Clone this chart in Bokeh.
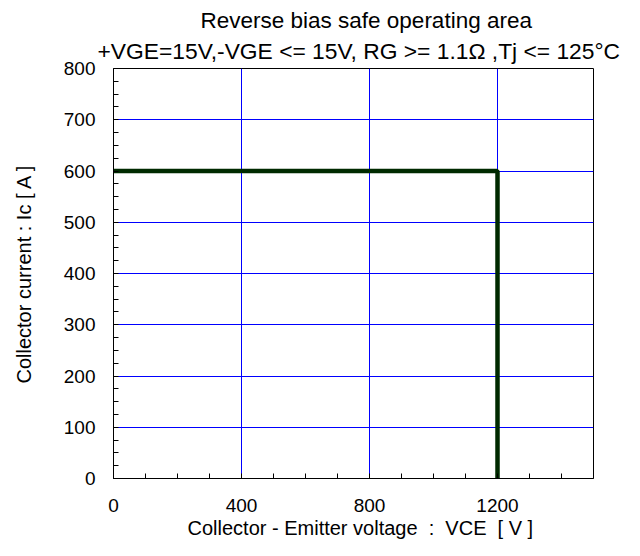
from bokeh.plotting import figure
from bokeh.models import FixedTicker, Title, Range1d
from bokeh.embed import file_html
from bokeh.resources import INLINE

# data
vce = [0, 1200, 1200]
ic = [600, 600, 0]

x_major = [0, 400, 800, 1200]
x_minor = [100, 200, 300, 500, 600, 700, 900, 1000, 1100, 1300, 1400]
x_grid = [400, 800, 1200]
y_major = [0, 100, 200, 300, 400, 500, 600, 700, 800]
y_minor = [v for v in range(0, 801, 25) if v % 100 != 0]
y_grid = [100, 200, 300, 400, 500, 600, 700]

title1 = "Reverse bias safe operating area"
title2 = "+VGE=15V,-VGE <= 15V, RG >= 1.1\u03a9 ,Tj <= 125\u00b0C"
xlabel = "Collector - Emitter voltage \u00a0: \u00a0VCE \u00a0[ V ]"
ylabel = "Collector current : Ic [ A ]"

FONT = "Liberation Sans"

p = figure(width=624, height=540, output_backend="svg", toolbar_location=None,
           x_range=Range1d(0, 1500), y_range=Range1d(0, 800),
           min_border_left=113, min_border_right=31, min_border_top=68,
           min_border_bottom=62, title=None)

p.background_fill_color = "white"
p.border_fill_color = "white"
p.outline_line_color = "black"
p.outline_line_width = 1

p.line(vce, ic, line_color="#002a00", line_width=4.5)

for ax in (p.xaxis[0], p.yaxis[0]):
    ax.major_tick_in = 5
    ax.major_tick_out = 0
    ax.minor_tick_in = 5
    ax.minor_tick_out = 0
    ax.axis_line_color = "black"
    ax.major_tick_line_color = "black"
    ax.minor_tick_line_color = "black"
    ax.major_label_text_font = FONT
    ax.major_label_text_font_size = "19px"
    ax.major_label_text_color = "black"
    ax.axis_label_text_font = FONT
    ax.axis_label_text_font_size = "20px"
    ax.axis_label_text_font_style = "normal"
    ax.axis_label_text_color = "black"

p.xaxis.ticker = FixedTicker(ticks=x_major, minor_ticks=x_minor)
p.yaxis.ticker = FixedTicker(ticks=y_major, minor_ticks=y_minor)
p.yaxis.axis_label = ylabel
p.xaxis.major_label_standoff = 20
p.yaxis.major_label_standoff = 18
p.yaxis.axis_label_standoff = 26

# x-axis title as a panel below the axis, left-offset so it is centred as in the original
xt = Title(text=xlabel, align="left", text_font=FONT, text_font_size="20px",
           text_font_style="normal", text_color="black", offset=74, standoff=0,
           vertical_align="bottom")
p.add_layout(xt, "below")

p.xgrid.ticker = FixedTicker(ticks=x_grid)
p.ygrid.ticker = FixedTicker(ticks=y_grid)
p.grid.grid_line_color = "#0000FF"
p.grid.grid_line_width = 1

t2 = Title(text=title2, align="left", text_font=FONT, text_font_size="22.8px",
           text_font_style="normal", text_color="black", offset=-16, standoff=10)
t1 = Title(text=title1, align="left", text_font=FONT, text_font_size="22.5px",
           text_font_style="normal", text_color="black", offset=87, standoff=-4)
p.add_layout(t2, "above")
p.add_layout(t1, "above")

open("out.html", "w").write(file_html(p, INLINE))
